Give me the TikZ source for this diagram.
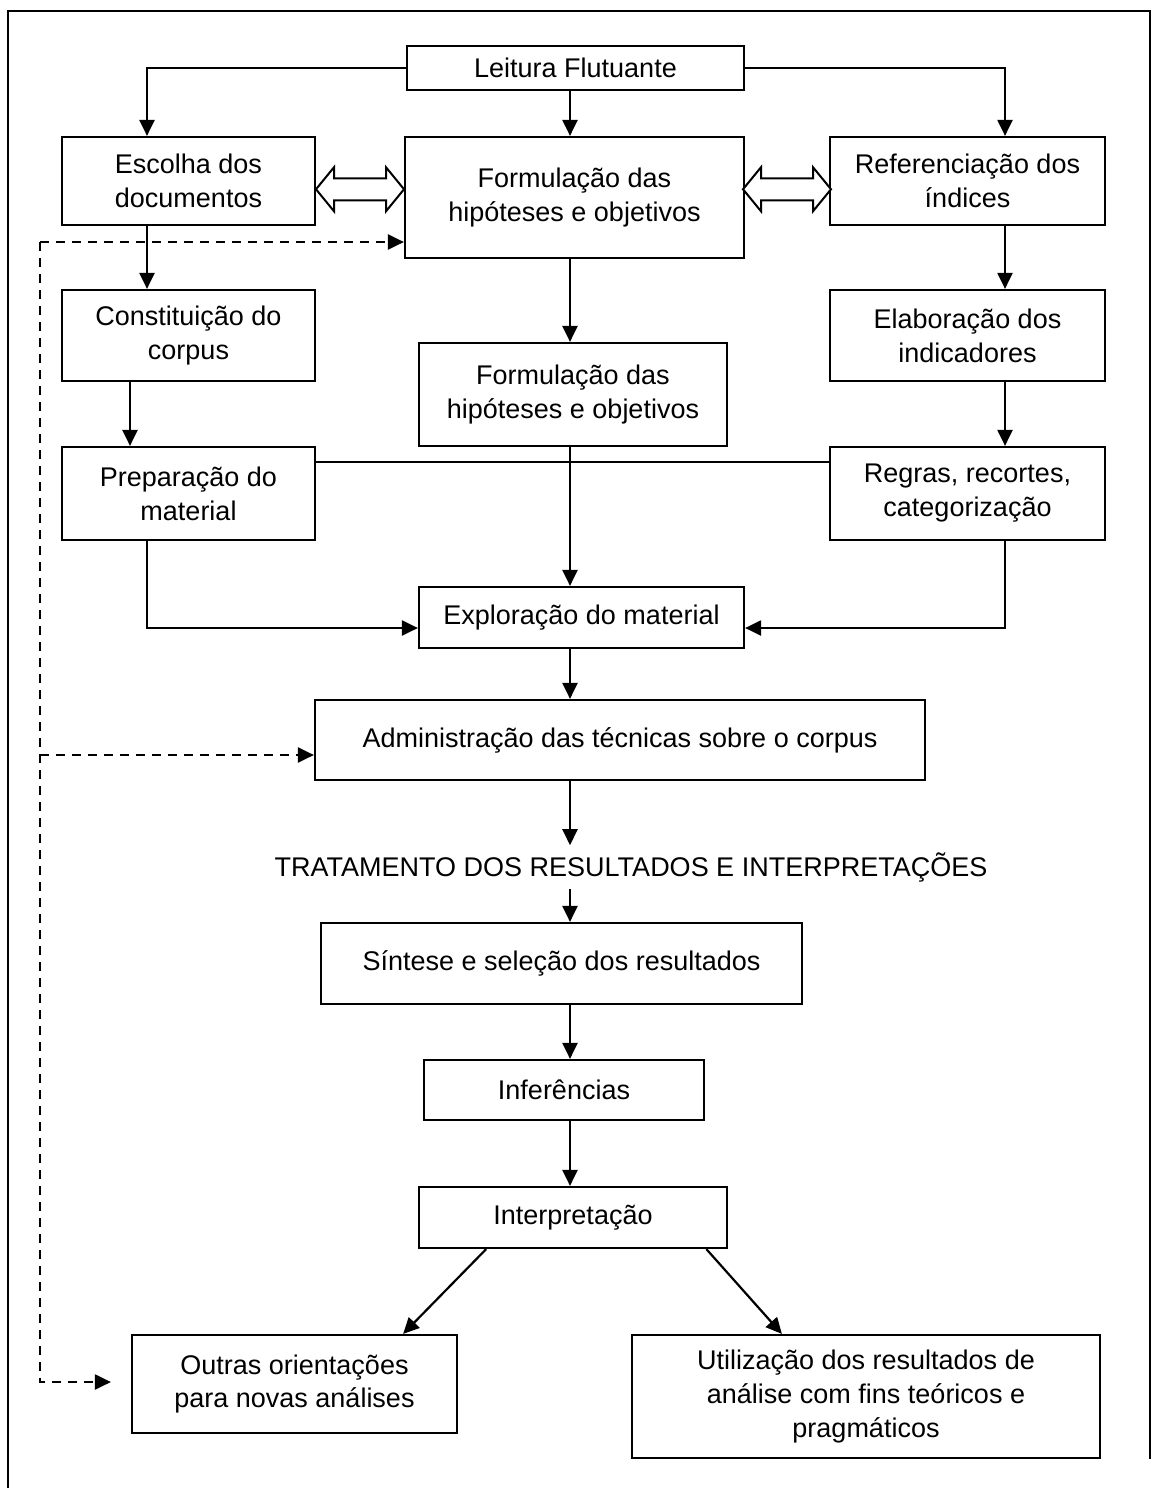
\documentclass[tikz,border=0pt]{standalone}
\usepackage{fontspec}
\setmainfont{Liberation Sans}
\usetikzlibrary{arrows.meta,calc}

\begin{document}
\begin{tikzpicture}[
  x=0.5pt,
  y=-0.5pt,
  every node/.style={
    font=\fontsize{13.5}{17}\selectfont,
    align=center,
  },
  box/.style={
    draw=black,
    line width=1.1pt,
    inner sep=0pt,
  },
  flow/.style={
    line width=1.1pt,
    -{Triangle[length=8pt,width=7.5pt]},
  },
  link/.style={
    line width=1.1pt,
  },
  back/.style={
    line width=1.1pt,
    dash pattern=on 4.5pt off 3.5pt,
    -{Triangle[length=8pt,width=7.5pt]},
  },
  both ways/.pic={
    \draw[line width=1pt,fill=white]
      (-44,0) -- (-26,-22) -- (-26,-11) -- (26,-11) -- (26,-22)
      -- (44,0) -- (26,22) -- (26,11) -- (-26,11) -- (-26,22) -- cycle;
  }
]
\useasboundingbox (0,0) rectangle (1157,1488);
\draw[link] (8,1488) -- (8,11) -- (1150,11) -- (1150,1459);

% columns of the arrows
\coordinate (axis) at (570,0);
\coordinate (lcol) at (147,0);
\coordinate (lcol2) at (130,0);
\coordinate (rcol) at (1005,0);

% pre-analysis
\node[box,minimum width=168.5pt,minimum height=22pt] (lf) at (575.5,68) {Leitura Flutuante};
\node[box,minimum width=126.5pt,minimum height=44pt] (esc) at (188.5,181) {Escolha dos\\documentos};
\node[box,minimum width=169.5pt,minimum height=60.5pt] (form1) at (574.5,197.5) {Formulação das\\hipóteses e objetivos};
\node[box,minimum width=137.5pt,minimum height=44pt] (ref) at (967.5,181) {Referenciação dos\\índices};
\node[box,minimum width=126.5pt,minimum height=45.5pt] (const) at (188.5,335.5) {Constituição do\\corpus};
\node[box,minimum width=137.5pt,minimum height=45.5pt] (elab) at (967.5,335.5) {Elaboração dos\\indicadores};
\node[box,minimum width=154pt,minimum height=51.5pt] (form2) at (573,394.5) {Formulação das\\hipóteses e objetivos};
\node[box,minimum width=126.5pt,minimum height=46.5pt] (prep) at (188.5,493.5) {Preparação do\\material};
\node[box,minimum width=137.5pt,minimum height=46.5pt] (regras) at (967.5,493.5) {Regras, recortes,\\categorização};

% exploration
\node[box,minimum width=162.5pt,minimum height=30.5pt] (expl) at (581.5,617.5) {Exploração do material};
\node[box,minimum width=305pt,minimum height=40pt] (adm) at (620,740) {Administração das técnicas sobre o corpus};

% results
\node (trat) at (631,867) {TRATAMENTO DOS RESULTADOS E INTERPRETAÇÕES};
\node[box,minimum width=240.5pt,minimum height=40.5pt] (sint) at (561.5,963.5) {Síntese e seleção dos resultados};
\node[box,minimum width=140pt,minimum height=30pt] (inf) at (564,1090) {Inferências};
\node[box,minimum width=154pt,minimum height=30.5pt] (interp) at (573,1217.5) {Interpretação};
\node[box,minimum width=162.5pt,minimum height=49pt] (outras) at (294.5,1384) {Outras orientações\\para novas análises};
\node[box,minimum width=234pt,minimum height=61.5pt] (util) at (866,1396.5) {Utilização dos resultados de\\análise com fins teóricos e\\pragmáticos};

% connectors
\draw[flow] (lf.west) -| (esc.north -| lcol);
\draw[flow] (lf.east) -| (ref.north -| rcol);
\draw[flow] (lf.south -| axis) -- (form1.north -| axis);
\pic at ($(esc.east)!0.5!(form1.west)$) {both ways};
\pic at ($(form1.east)!0.5!(ref.west)$) {both ways};
\draw[flow] (esc.south -| lcol) -- (const.north -| lcol);
\draw[flow] (form1.south -| axis) -- (form2.north -| axis);
\draw[flow] (ref.south -| rcol) -- (elab.north -| rcol);
\draw[flow] (const.south -| lcol2) -- (prep.north -| lcol2);
\draw[flow] (elab.south -| rcol) -- (regras.north -| rcol);
\draw[link] (prep.east |- 0,462) -- (regras.west |- 0,462);
\draw[flow] (form2.south -| axis) -- (expl.north -| axis);
\draw[flow] (prep.south -| lcol) |- (expl.west |- 0,628);
\draw[flow] (regras.south -| rcol) |- (expl.east |- 0,628);
\draw[flow] (expl.south -| axis) -- (adm.north -| axis);
\draw[flow] (adm.south -| axis) -- (trat.north -| axis);
\draw[flow] (trat.south -| axis) -- (sint.north -| axis);
\draw[flow] (sint.south -| axis) -- (inf.north -| axis);
\draw[flow] (inf.south -| axis) -- (interp.north -| axis);
\draw[flow] ($(interp.south west)!0.22!(interp.south east)$) -- ($(outras.north east)+(-55,0)$);
\draw[flow] ($(interp.south west)!0.93!(interp.south east)$) -- ($(util.north west)+(151,0)$);

% feedback
\coordinate (fb) at (40,242);
\draw[back] (fb) -- (form1.west |- fb);
\draw[back] (fb |- 0,755) -- (adm.west |- 0,755);
\draw[back,shorten >=10pt] (fb) |- (outras.west |- 0,1382);
\end{tikzpicture}
\end{document}
